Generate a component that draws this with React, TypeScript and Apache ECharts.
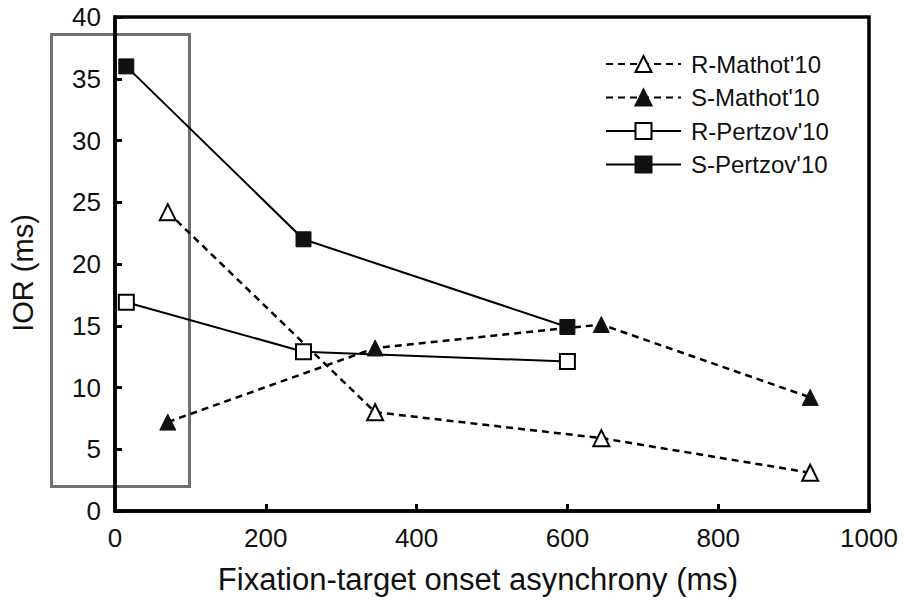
import React, { useEffect, useRef } from "react";
import * as echarts from "echarts";

const seriesNames = ["R-Mathot'10", "S-Mathot'10", "R-Pertzov'10", "S-Pertzov'10"];
const rMathot: [number, number][] = [[70, 24.2], [345, 8.0], [645, 5.9], [922, 3.1]];
const sMathot: [number, number][] = [[70, 7.2], [345, 13.2], [645, 15.1], [922, 9.2]];
const rPertzov: [number, number][] = [[15, 16.9], [250, 12.9], [600, 12.1]];
const sPertzov: [number, number][] = [[15, 36.0], [250, 22.0], [600, 14.9]];

const FONT = "'Liberation Sans', Arial, sans-serif";

export default function App() {
  const ref = useRef<HTMLDivElement>(null);
  useEffect(() => {
    if (!ref.current) return;
    const chart = echarts.init(ref.current, undefined, { renderer: "svg" });
    const dashed = { color: "#000", width: 2.5, type: [7, 5] as any };
    const solid = { color: "#000", width: 2, type: "solid" as any };
    const open = { color: "#fff", borderColor: "#000", borderWidth: 2 };
    const filled = { color: "#111", borderColor: "#111", borderWidth: 1 };
    const mk = (name: string, data: [number, number][], line: any, item: any, symbol: string, size: number) => ({
      name,
      type: "line",
      data,
      symbol,
      symbolSize: size,
      showAllSymbol: true,
      lineStyle: line,
      itemStyle: item,
      z: 5,
      emphasis: { disabled: true },
    });
    chart.setOption({
      animation: false,
      textStyle: { fontFamily: FONT },
      grid: { left: 114, top: 17, right: 35, bottom: 91, show: true, borderColor: "#000", borderWidth: 3.5, z: 3 },
      xAxis: {
        type: "value",
        min: 0,
        max: 1000,
        interval: 200,
        z: 3,
        name: "Fixation-target onset asynchrony (ms)",
        nameLocation: "middle",
        nameGap: 53,
        nameTextStyle: { fontSize: 31, color: "#111", fontFamily: FONT, padding: [0, 28, 0, 0] },
        axisLine: { show: true, lineStyle: { color: "#000", width: 3.5 } },
        axisTick: { show: true, inside: true, length: 7, lineStyle: { color: "#000", width: 3 } },
        axisLabel: { fontSize: 26, color: "#111", margin: 14, fontFamily: FONT, formatter: (v: number) => String(v) },
        splitLine: { show: false },
      },
      yAxis: {
        type: "value",
        min: 0,
        max: 40,
        interval: 5,
        z: 3,
        name: "IOR (ms)",
        nameLocation: "middle",
        nameGap: 78,
        nameTextStyle: { fontSize: 29, color: "#111", fontFamily: FONT, padding: [0, 18, 0, 0] },
        axisLine: { show: true, lineStyle: { color: "#000", width: 3.5 } },
        axisTick: { show: true, inside: true, length: 7, lineStyle: { color: "#000", width: 3 } },
        axisLabel: { fontSize: 26, color: "#111", margin: 14, fontFamily: FONT, formatter: (v: number) => String(v) },
        splitLine: { show: false },
      },
      legend: {
        orient: "vertical",
        left: 605,
        top: 52,
        padding: 0,
        itemWidth: 75,
        itemHeight: 20,
        itemGap: 9.5,
        selectedMode: false,
        data: seriesNames,
        textStyle: { fontSize: 24, color: "#111", fontFamily: FONT, padding: [0, 0, 0, 5] },
      },
      graphic: [
        {
          type: "rect",
          z: 1,
          shape: { x: 51.5, y: 34.5, width: 138, height: 452 },
          style: { fill: "none", stroke: "#707070", lineWidth: 3 },
        },
      ],
      series: [
        mk(seriesNames[0], rMathot, dashed, open, "triangle", 16),
        mk(seriesNames[1], sMathot, dashed, filled, "triangle", 16),
        mk(seriesNames[2], rPertzov, solid, open, "rect", 15),
        mk(seriesNames[3], sPertzov, solid, filled, "rect", 15),
      ],
    });
    return () => chart.dispose();
  }, []);
  return <div ref={ref} style={{ position: "fixed", left: 0, top: 0, width: 904, height: 602, background: "#fff" }} />;
}
